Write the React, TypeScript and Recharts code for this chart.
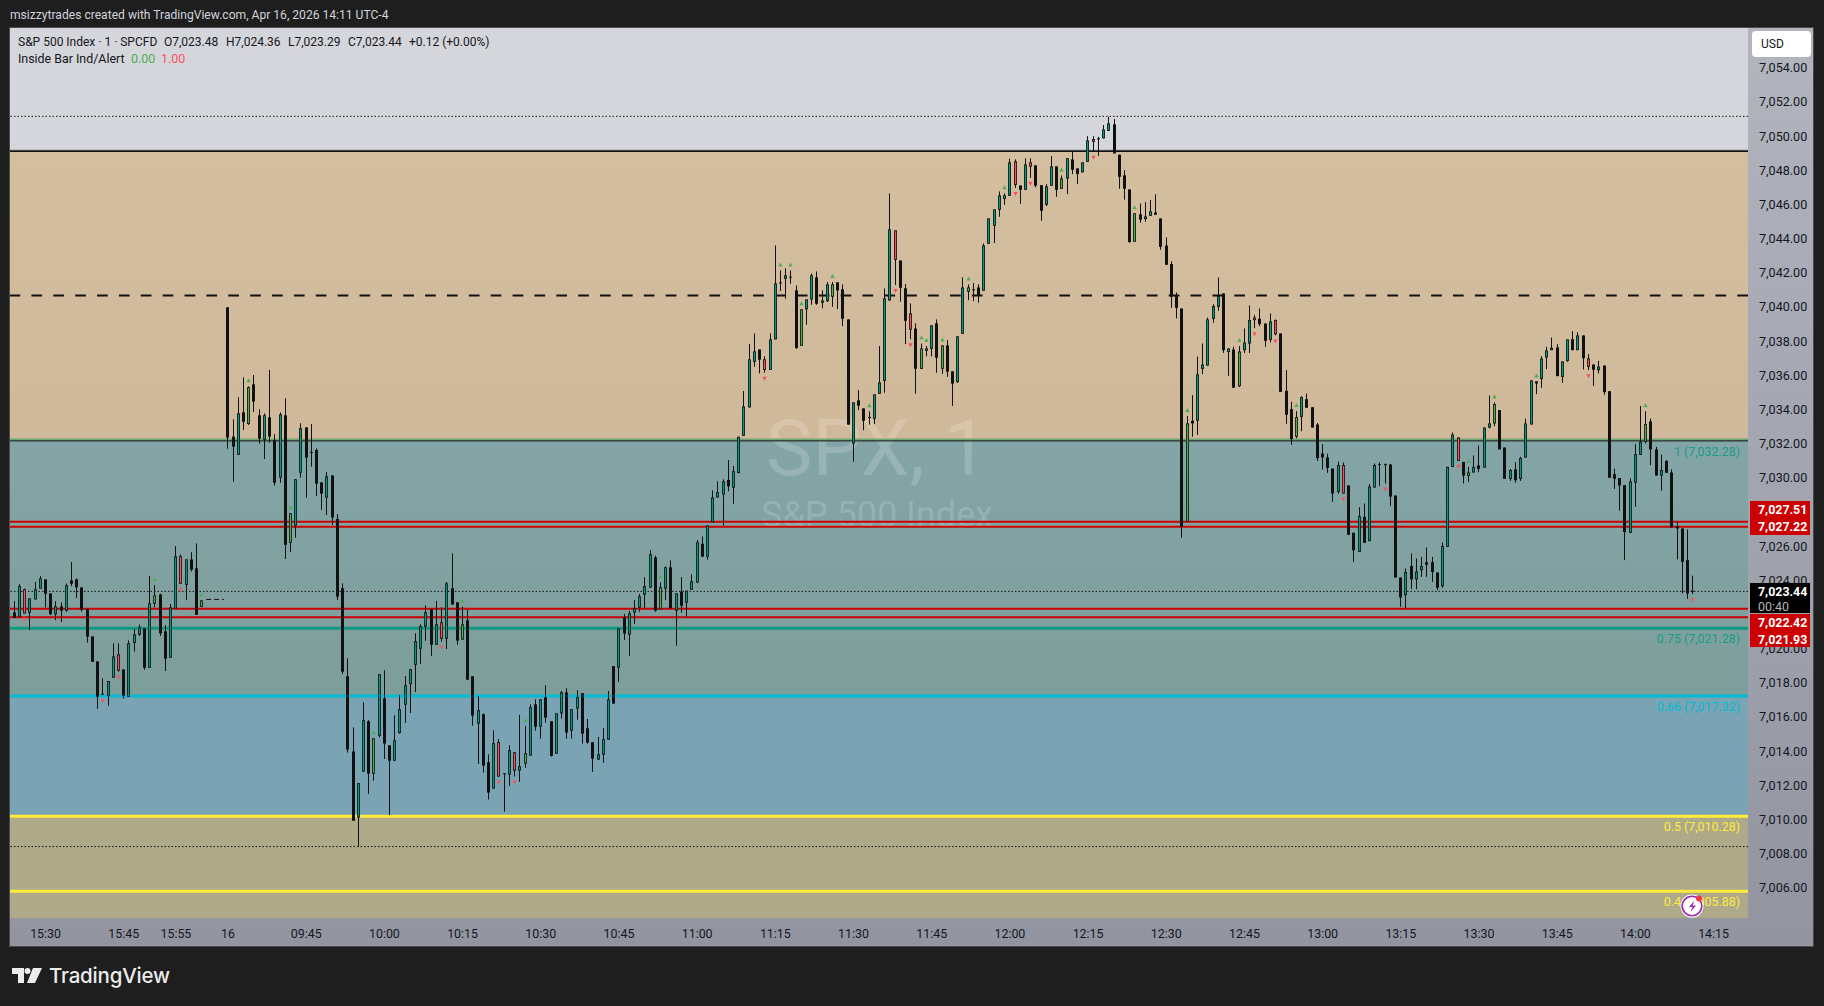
import { Bar, CartesianGrid, ComposedChart, ReferenceArea, ReferenceLine, XAxis, YAxis } from "recharts"

const FONT = "Roboto, 'Liberation Sans', sans-serif"

const opens = [
  7022.5,7022.21,7021.96,7022.15,7022.19,7022.97,7023.6,7024.14,7023.32,7022.09,
  7022.56,7022.31,7024.08,7024.14,7023.67,7022.39,7020.8,7019.34,7017.45,7017.31,
  7018.39,7018.8,7018.87,7017.27,7020.43,7020.9,7021.27,7018.97,7022.72,7023.26,
  7021.1,7019.56,7022.42,7023.89,7023.83,7025.31,7024.79,7022.54,null,null,
  null,null,7040.07,7032.5,7031.44,7033.92,7033.24,7035.56,7033.75,7032.32,
  7033.63,7032.28,7030.1,7033.75,7026.29,7027.29,7030.39,7033.04,7031.6,7031.72,
  7029.82,7028.93,7030.23,7027.68,7023.62,7018.47,7014.08,7010.2,7012.89,7015.84,
  7012.77,7014.99,7017.18,7014.43,7013.53,7015.15,7016.81,7018.02,7019.15,7020.09,
  7021.38,7022.39,7020.32,7020.67,7020.67,7023.62,7022.8,7020.62,7021.75,7018.47,
  7015.7,7016.25,7013.44,7011.9,7012.6,7012.79,7012.71,7012.95,7012.95,7013.36,
  7013.83,7016.83,7015.52,7017.24,7015.84,7013.94,7016.3,7017.53,7015.29,7016.58,
  7017.48,7015.43,7014.61,7013.59,7013.88,7014.76,7019.06,7018.98,7021.92,7020.91,
  7022.2,7022.49,7023.25,7023.66,7025.43,7022.39,7023.6,7024.85,7022.31,7023.42,
  7022.78,7023.54,7023.95,7026.23,7025.47,7027.48,7028.94,7029.12,7029.96,7029.51,
  7030.37,7032.55,7034.21,7036.88,7037.6,7036.41,7036.41,7038.19,7041.53,7041.74,
  7041.86,7041.06,7037.82,7039.95,7040.53,7041.82,7040.34,7040.43,7040.69,7041.53,
  7041.12,7039.36,7032.1,7034.62,7034.15,7033.65,7033.55,7035.01,7035.77,7040.47,
  7042.85,7042.81,7041.18,7038.76,7038.83,7036.47,7037.53,7037.64,7039.13,7036.47,
  7037.84,7036.32,7035.69,7038.52,7040.98,7041.12,7041.23,7041.04,7043.79,7044.84,
  7045.78,7046.42,7046.6,7047.24,7047.2,7046.95,7048.3,7048.38,7047.22,7046.07,
  7047.19,7048.32,7047.01,7047.61,7048.73,7048.2,7047.97,7048.59,7049.76,7049.96,
  7049.96,7050.4,7050.78,7049.0,7047.79,7046.97,7043.91,7045.51,7045.23,7045.43,
  7045.62,7045.27,7043.69,7042.6,7040.79,7040.0,7027.52,7033.43,7033.43,7036.47,
  7036.66,7039.4,7040.1,7040.88,7037.46,7037.6,7035.45,7037.56,7037.95,7039.32,
  7039.4,7039.12,7038.17,7038.5,7038.54,7035.18,7034.11,7032.49,7033.66,7034.69,
  7034.22,7033.21,7031.51,7031.28,7030.63,7029.27,7029.17,7029.64,7026.87,7025.76,
  7027.8,7026.38,7029.52,7030.89,7030.89,7030.87,7029.05,7024.25,7023.22,7024.92,
  7024.14,7024.68,7025.15,7025.15,7024.55,7023.75,7026.05,7030.73,7031.08,7031.02,
  7030.2,7030.4,7030.81,7030.69,7033.03,7033.27,7034.05,7031.86,7030.03,7030.58,
  7030.03,7031.28,7033.21,7035.73,7035.88,7037.13,7037.56,7037.72,7036.0,7036.92,
  7038.2,7037.56,7038.42,7036.59,7036.72,7036.39,7036.66,7035.16,7030.3,7030.07,
  7029.66,7026.87,7029.81,7031.43,7032.2,7033.39,7031.75,7030.22,7031.08,7030.4,
  7027.26,7027.12,7025.27,7023.48,
]

const highs = [
  7022.6,7022.87,7023.87,7023.6,7023.03,7024.0,7024.34,7024.14,7023.32,7022.87,
  7022.8,7023.9,7025.16,7024.2,7023.67,7022.45,7020.8,7019.34,7018.35,7018.19,
  7020.4,7020.4,7018.87,7020.57,7021.24,7021.5,7021.27,7024.34,7023.81,7023.3,
  7021.47,7022.7,7026.09,7025.6,7025.31,7025.74,7026.25,7022.91,null,null,
  null,null,7040.07,7033.51,7034.8,7035.97,7035.45,7036.11,7034.1,7033.86,
  7036.4,7032.65,7033.92,7034.74,7028.01,7030.0,7033.28,7033.04,7033.24,7031.81,
  7029.82,7030.43,7030.23,7027.97,7023.91,7019.52,7015.48,7012.21,7016.95,7015.9,
  7014.84,7018.59,7018.82,7014.43,7016.19,7017.38,7018.49,7018.88,7020.99,7021.51,
  7022.63,7022.39,7022.88,7022.51,7023.99,7025.66,7022.8,7022.55,7022.35,7018.47,
  7017.32,7016.3,7013.9,7015.31,7014.8,7012.79,7014.43,7014.02,7016.21,7015.56,
  7016.83,7017.12,7017.12,7017.94,7015.84,7016.3,7017.61,7017.77,7016.54,7017.65,
  7017.48,7015.97,7014.61,7014.92,7015.45,7017.61,7019.06,7021.28,7022.12,7022.3,
  7022.94,7023.29,7024.27,7025.86,7025.53,7023.97,7024.9,7025.26,7023.32,7024.28,
  7023.48,7024.44,7026.45,7026.66,7027.3,7029.35,7029.88,7030.0,7031.13,7030.78,
  7032.49,7035.17,7037.92,7038.54,7037.6,7037.2,7038.54,7043.69,7042.23,7042.35,
  7042.23,7041.35,7039.95,7040.53,7042.05,7042.17,7041.06,7041.55,7041.55,7041.53,
  7041.41,7039.36,7034.5,7035.22,7034.15,7033.98,7034.97,7037.8,7041.18,7046.74,
  7044.57,7042.81,7041.43,7040.3,7039.13,7037.95,7037.8,7039.01,7039.36,7037.84,
  7038.15,7036.32,7038.37,7041.82,7041.41,7041.49,7041.41,7043.81,7045.27,7045.8,
  7046.85,7046.74,7048.77,7048.73,7047.2,7048.79,7048.79,7048.38,7047.22,7047.28,
  7048.92,7048.32,7047.79,7048.79,7049.18,7048.2,7048.55,7050.09,7050.09,7050.05,
  7050.74,7051.22,7051.09,7049.0,7048.1,7046.97,7045.57,7046.15,7046.23,7046.35,
  7046.68,7045.27,7044.16,7042.76,7040.94,7040.0,7033.7,7034.93,7037.18,7037.95,
  7039.47,7040.25,7041.81,7040.88,7037.66,7037.76,7037.8,7038.83,7040.18,7039.61,
  7040.0,7039.12,7039.71,7039.36,7038.54,7036.39,7034.54,7034.0,7034.87,7035.02,
  7034.22,7033.3,7032.06,7031.5,7030.63,7031.04,7030.99,7029.64,7026.87,7028.37,
  7028.59,7029.72,7030.93,7030.99,7030.93,7030.87,7029.05,7024.25,7024.78,7025.66,
  7025.37,7025.46,7026.01,7025.46,7024.55,7026.3,7030.73,7032.74,7032.45,7031.02,
  7030.73,7031.4,7031.98,7033.03,7034.91,7034.5,7034.05,7031.86,7030.6,7031.0,
  7031.32,7033.56,7035.79,7035.73,7037.21,7037.76,7038.3,7037.91,7036.9,7038.19,
  7038.67,7038.61,7038.42,7037.33,7036.72,7036.94,7036.66,7035.16,7030.63,7030.07,
  7029.66,7030.05,7032.06,7034.3,7033.99,7033.56,7031.9,7031.45,7031.12,7030.58,
  7027.51,7027.12,7027.06,7024.36,
]

const lows = [
  7021.0,7021.9,7021.96,7022.15,7021.18,7022.97,7023.6,7022.5,7022.05,7021.76,
  7021.64,7022.25,7023.75,7023.05,7022.25,7020.44,7019.32,7016.57,7017.37,7016.75,
  7018.39,7018.74,7017.16,7017.27,7019.91,7020.83,7018.85,7018.97,7022.5,7020.83,
  7018.78,7019.56,7022.42,7023.89,7022.93,7024.61,7022.07,7022.54,null,null,
  null,null,7031.79,7029.86,7031.44,7032.89,7033.18,7033.94,7032.09,7031.19,
  7032.15,7029.63,7029.8,7025.34,7025.75,7026.58,7030.1,7028.93,7030.74,7029.02,
  7028.2,7027.91,7027.33,7022.94,7018.61,7014.0,7010.02,7008.5,7012.89,7011.58,
  7012.36,7014.88,7013.63,7010.35,7013.53,7015.11,7015.74,7016.32,7017.55,7019.19,
  7020.54,7019.66,7020.32,7020.5,7020.07,7022.67,7020.32,7020.62,7018.27,7015.58,
  7013.34,7012.83,7011.25,7011.9,7012.6,7010.55,7012.05,7012.6,7012.29,7013.12,
  7013.83,7015.29,7014.82,7015.76,7013.77,7013.94,7015.99,7014.82,7014.82,7015.93,
  7014.53,7014.53,7012.87,7013.59,7013.4,7014.76,7016.87,7018.14,7020.6,7019.66,
  7021.53,7022.24,7022.47,7023.66,7022.25,7022.39,7022.93,7022.45,7020.26,7022.19,
  7021.96,7023.54,7023.95,7025.47,7025.3,7027.48,7028.94,7027.29,7029.3,7028.57,
  7030.35,7032.55,7034.21,7036.59,7036.2,7036.24,7036.41,7038.19,7041.02,7040.57,
  7041.45,7037.64,7037.82,7039.05,7040.22,7040.22,7040.02,7040.38,7040.1,7039.97,
  7038.97,7033.2,7031.03,7034.05,7032.88,7033.2,7033.23,7035.01,7035.07,7040.47,
  7041.37,7040.4,7037.92,7038.2,7035.01,7036.47,7037.2,7037.2,7036.24,7036.17,
  7036.0,7034.3,7035.65,7038.52,7040.49,7040.43,7040.34,7041.04,7043.79,7043.83,
  7045.37,7046.07,7046.6,7047.05,7046.13,7046.95,7047.65,7047.09,7045.14,7046.0,
  7047.19,7046.54,7047.01,7046.7,7047.87,7047.28,7047.97,7048.59,7049.18,7048.94,
  7049.96,7050.4,7049.08,7047.01,7046.37,7043.85,7043.91,7045.02,7045.08,7045.43,
  7045.49,7043.44,7042.56,7040.04,7039.42,7026.58,7027.52,7032.5,7032.6,7036.16,
  7036.66,7039.16,7039.86,7037.4,7036.06,7035.36,7035.4,7037.4,7037.4,7038.85,
  7038.97,7037.76,7038.01,7038.42,7035.12,7033.25,7032.02,7032.4,7032.82,7034.19,
  7033.03,7031.08,7030.58,7030.38,7028.68,7029.17,7029.17,7026.75,7025.17,7025.76,
  7026.28,7026.38,7029.52,7029.6,7029.76,7028.45,7024.25,7022.54,7022.44,7023.57,
  7023.57,7024.29,7024.29,7024.0,7023.51,7023.65,7026.05,7030.73,7031.08,7029.76,
  7029.85,7030.4,7030.42,7030.69,7032.98,7033.11,7031.75,7030.03,7029.91,7029.8,
  7029.91,7031.28,7033.21,7034.99,7035.36,7036.45,7037.56,7036.04,7035.65,7036.88,
  7037.56,7037.56,7036.43,7036.39,7035.47,7036.2,7034.95,7030.09,7029.44,7028.16,
  7025.27,7026.87,7028.39,7031.43,7032.1,7030.83,7030.22,7029.33,7030.38,7027.18,
  7025.31,7023.32,7023.0,7023.29,
]

const closes = [
  7021.3,7021.9,7023.75,7023.56,7023.03,7023.56,7024.2,7023.3,7022.11,7022.56,
  7022.31,7023.79,7023.89,7023.67,7022.37,7020.79,7019.32,7017.27,7017.41,7018.19,
  7019.63,7019.75,7017.33,7020.4,7020.92,7021.33,7018.97,7022.74,7023.2,7020.98,
  7019.5,7022.5,7025.49,7025.49,7025.31,7024.71,7022.07,7022.91,null,null,
  null,null,7032.44,7031.91,7033.86,7033.37,7035.4,7034.55,7032.38,7033.75,
  7032.5,7029.8,7033.8,7026.17,7028.01,7030.0,7032.99,7031.27,7031.55,7029.75,
  7029.16,7030.17,7027.76,7023.13,7018.74,7014.18,7010.02,7012.21,7015.9,7012.77,
  7014.84,7018.59,7014.53,7013.53,7014.72,7016.54,7017.94,7018.88,7020.52,7021.4,
  7022.22,7020.32,7021.51,7021.63,7023.91,7022.67,7020.56,7021.51,7018.27,7016.17,
  7016.48,7013.24,7011.66,7014.55,7014.61,7012.75,7014.14,7014.02,7013.2,7013.96,
  7016.66,7015.52,7017.12,7016.05,7013.81,7016.3,7017.53,7015.17,7016.54,7017.24,
  7015.11,7014.59,7013.65,7013.9,7014.78,7017.12,7016.87,7021.28,7020.97,7022.16,
  7022.45,7023.15,7023.74,7025.61,7022.31,7023.68,7024.85,7022.45,7023.32,7022.6,
  7023.48,7024.03,7026.31,7025.47,7027.3,7028.94,7029.24,7029.88,7029.59,7030.47,
  7032.49,7034.27,7037.02,7037.49,7037.0,7037.02,7038.19,7041.47,7041.48,7041.94,
  7041.83,7037.68,7039.95,7040.53,7041.94,7040.28,7040.47,7041.41,7041.41,7041.06,
  7039.4,7033.2,7034.5,7034.31,7033.43,7033.6,7034.97,7035.67,7040.59,7044.63,
  7044.57,7041.21,7039.28,7039.71,7036.47,7037.66,7037.66,7039.01,7037.12,7037.84,
  7036.3,7035.6,7038.37,7041.23,7041.23,7041.1,7040.75,7043.69,7045.27,7045.8,
  7046.62,7046.62,7048.55,7048.61,7046.95,7048.43,7048.55,7047.19,7045.72,7047.15,
  7048.32,7046.95,7047.61,7048.79,7048.12,7047.87,7048.55,7049.84,7049.92,7049.93,
  7050.48,7050.83,7049.08,7047.71,7047.01,7043.89,7045.57,7045.2,7045.39,7045.68,
  7045.49,7043.61,7042.56,7040.69,7040.04,7027.23,7033.27,7033.27,7036.14,7036.72,
  7039.36,7040.14,7040.72,7037.56,7037.66,7035.36,7037.48,7038.01,7039.32,7039.47,
  7039.08,7038.11,7039.24,7039.32,7035.12,7033.78,7032.35,7033.64,7034.81,7034.19,
  7033.03,7031.24,7031.28,7030.67,7029.17,7030.83,7030.83,7026.75,7025.85,7027.84,
  7026.28,7029.58,7030.83,7030.87,7030.87,7028.98,7024.25,7023.08,7024.57,7024.14,
  7024.6,7024.92,7025.0,7024.57,7023.65,7026.09,7030.73,7032.62,7032.45,7030.22,
  7030.4,7030.73,7030.61,7033.03,7033.27,7034.4,7031.75,7030.03,7030.54,7029.95,
  7031.24,7033.27,7035.79,7035.61,7037.07,7037.54,7037.7,7036.04,7036.9,7038.19,
  7037.56,7038.42,7037.09,7037.07,7036.41,7036.6,7035.1,7030.09,7030.03,7029.64,
  7026.91,7029.87,7031.47,7032.2,7033.23,7031.75,7030.22,7030.54,7030.38,7027.18,
  7027.12,7025.17,7023.32,7023.44,
]

// inside bar indicator: recoloured candles and their markers
const greenCandles = [28,37,46,54,70,87,99,125,152,158,175,179,184,202,216,226,236,247,280,285,314]
const redCandles = [3,21,33,83,94,97,145,170,173,193,196,208,239,243,256,278,303]
const upMarks = [28,37,46,54,70,87,99,125,148,150,152,158,165,175,176,179,184,191,202,216,226,236,247,280,285,293,314]
const downMarks = [3,18,21,33,83,94,97,145,170,173,193,196,208,239,243,256,264,278,303,323]

const timeTicks = [7,22,32,42,57,72,87,102,117,132,147,162,177,192,207,222,237,252,267,282,297,312,327]
const timeLabels = ["15:30","15:45","15:55","16","09:45","10:00","10:15","10:30","10:45","11:00","11:15","11:30","11:45","12:00","12:15","12:30","12:45","13:00","13:15","13:30","13:45","14:00","14:15"]
// 7,028 and 7,022 sit fully behind the price tags in the reference
const priceTicks = [7006,7008,7010,7012,7014,7016,7018,7020,7024,7026,7030,7032,7034,7036,7038,7040,7042,7044,7046,7048,7050,7052,7054]

const candles = opens
  .map((open, i) => ({ slot: i, open, high: highs[i], low: lows[i], close: closes[i] }))
  .filter((d) => d.open !== null)

const CandleShape = (props: any) => {
  const { x, y, width, height, payload } = props
  const { slot, open, high, low, close } = payload
  const cx = Math.floor(x + width / 2) + 0.5
  const perPrice = height / (high - low)
  const top = y + (high - Math.max(open, close)) * perPrice
  const bodyH = Math.max(Math.abs(open - close) * perPrice, 1)
  let color = close > open ? "#089981" : "#111111"
  if (greenCandles.includes(slot)) color = "#4caf50"
  if (redCandles.includes(slot)) color = "#f7525f"
  return (
    <g>
      <rect x={cx - 0.5} y={y} width={1} height={height} fill="#111111" />
      <rect x={cx - 1.5} y={top} width={3} height={bodyH} fill="#111111" />
      {color !== "#111111" && bodyH > 2 && <rect x={cx - 0.7} y={top + 0.8} width={1.4} height={bodyH - 1.6} fill={color} />}
      {upMarks.includes(slot) && <path d={`M${cx} ${y - 8} l2.2 4 h-4.4 z`} fill="#4caf50" />}
      {downMarks.includes(slot) && <path d={`M${cx} ${y + height + 8} l2.2 -4 h-4.4 z`} fill="#f7525f" />}
    </g>
  )
}

const fibLabel = (text: string, color: string) => (props: any) => {
  const { x, y, width } = props.viewBox
  return (
    <text x={x + width - 8} y={y + 15} textAnchor="end" fill={color} fontSize={12.4} fontFamily={FONT}>
      {text}
    </text>
  )
}

const Watermark = (props: any) => {
  const mid = (props.x1 + props.x2) / 2 - 2
  const y = props.y1
  return (
    <g fill="rgba(255,255,255,0.17)" fontFamily={FONT} textAnchor="middle">
      <text x={mid} y={y + 35} fontSize={78}>SPX, 1</text>
      <text x={mid} y={y + 87} fontSize={36}>S&amp;P 500 Index</text>
    </g>
  )
}

const tag = (top: number, height: number, color: string): any => ({
  position: "absolute", left: 1750, top, width: 52, paddingLeft: 8, height, background: color, color: "#fff",
  fontSize: 12.4, fontWeight: 700, fontFamily: FONT,
})

const textAt = (left: number, top: number, color: string, size = 12): any => ({
  position: "absolute", left, top, color, fontSize: size, fontFamily: FONT, whiteSpace: "pre", lineHeight: "16px",
})

export default function App() {
  const lineProps: any = { zIndex: 250 }
  return (
    <div style={{ position: "fixed", left: 0, top: 0, width: 1824, height: 1006, background: "#1e1e1e", overflow: "hidden" }}>
      <div style={{ position: "absolute", left: 9, top: 27, width: 1803, height: 918, border: "1px solid #4a4a4a", background: "linear-gradient(#b2b4be, #92959f)" }} />
      <ComposedChart width={1824} height={1006} data={candles} margin={{ top: 28, right: 11, bottom: 60, left: 10 }} style={{ position: "absolute", left: 0, top: 0 }}>
        <defs>
          <linearGradient id="tealBand" x1="0" y1="0" x2="0" y2="1">
            <stop offset="0" stopColor="#84a5a7" />
            <stop offset="1" stopColor="#7e9e9b" />
          </linearGradient>
          <linearGradient id="tanBand" x1="0" y1="0" x2="0" y2="1">
            <stop offset="0" stopColor="#d4bea0" />
            <stop offset="1" stopColor="#cfb99a" />
          </linearGradient>
        </defs>
        <ReferenceArea y1={7049.22} y2={7056.42} fill="#d5d6db" fillOpacity={1} ifOverflow="hidden" />
        <ReferenceArea y1={7032.28} y2={7049.22} fill="url(#tanBand)" fillOpacity={1} />
        <ReferenceArea y1={7017.32} y2={7032.28} fill="url(#tealBand)" fillOpacity={1} />
        <ReferenceArea y1={7010.28} y2={7017.32} fill="#7aa3b3" fillOpacity={1} />
        <ReferenceArea y1={7004.32} y2={7010.28} fill="#aeaa89" fillOpacity={1} ifOverflow="hidden" />
        <CartesianGrid stroke="rgba(255,255,255,0.05)" />
        <ReferenceLine {...lineProps} y={7032.28} stroke="transparent" shape={Watermark} />
        <ReferenceLine {...lineProps} y={7051.25} stroke="#111" strokeDasharray="1.5 2" />
        <ReferenceLine {...lineProps} y={7049.26} stroke="#6b6b6b" strokeWidth={1} />
        <ReferenceLine {...lineProps} y={7049.2} stroke="#111" strokeWidth={1.5} />
        <ReferenceLine {...lineProps} y={7040.76} stroke="#111" strokeWidth={2} strokeDasharray="10.7 11.17" />
        <ReferenceLine {...lineProps} y={7032.33} stroke="#6fa874" strokeWidth={2} />
        <ReferenceLine {...lineProps} y={7032.25} stroke="#111" strokeWidth={1} label={fibLabel("1 (7,032.28)", "#199c87")} />
        <ReferenceLine {...lineProps} y={7027.51} stroke="#cc0000" strokeWidth={2} />
        <ReferenceLine {...lineProps} y={7027.22} stroke="#cc0000" strokeWidth={2} />
        <ReferenceLine {...lineProps} y={7023.44} stroke="#111" strokeDasharray="1.5 2" />
        <ReferenceLine {...lineProps} y={7022.42} stroke="#cc0000" strokeWidth={2} />
        <ReferenceLine {...lineProps} y={7021.93} stroke="#cc0000" strokeWidth={2} />
        <ReferenceLine {...lineProps} y={7021.28} stroke="#0e9a80" strokeWidth={3} label={fibLabel("0.75 (7,021.28)", "#199c87")} />
        <ReferenceLine {...lineProps} y={7017.32} stroke="#00bcd4" strokeWidth={3} label={fibLabel("0.66 (7,017.32)", "#00bcd4")} />
        <ReferenceLine {...lineProps} y={7010.28} stroke="#ffeb3b" strokeWidth={3} label={fibLabel("0.5 (7,010.28)", "#ffeb3b")} />
        <ReferenceLine {...lineProps} y={7008.5} stroke="#111" strokeDasharray="1.5 2" />
        <ReferenceLine {...lineProps} y={7005.88} stroke="#ffeb3b" strokeWidth={3} label={fibLabel("0.4 (7,005.88)", "#ffeb3b")} />
        <ReferenceLine {...lineProps} segment={[{ x: 37.8, y: 7022.97 }, { x: 41.2, y: 7022.97 }]} stroke="#111" strokeDasharray="5 3" />
        <XAxis
          type="number"
          dataKey="slot"
          domain={[0.175, 333.6]}
          allowDataOverflow
          ticks={timeTicks}
          tickFormatter={(v) => timeLabels[timeTicks.indexOf(v)]}
          interval={0}
          height={28}
          axisLine={false}
          tickLine={false}
          tickMargin={5}
          tick={{ fill: "#131722", fontSize: 12.4, fontFamily: FONT }}
        />
        <YAxis
          orientation="right"
          domain={[7004.32, 7056.42]}
          allowDataOverflow
          ticks={priceTicks}
          tickFormatter={(v) => v.toLocaleString("en-US", { minimumFractionDigits: 2 })}
          interval={0}
          width={65}
          axisLine={false}
          tickLine={false}
          tickMargin={5}
          tick={{ fill: "#131722", fontSize: 12.6, fontFamily: FONT, dy: -1.5 }}
        />
        <Bar zIndex={450} dataKey={(d: any) => [d.low, d.high]} barSize={3} shape={CandleShape} isAnimationActive={false} />
      </ComposedChart>

      <div style={textAt(10, 7, "#d1d4dc", 12.1)}>msizzytrades created with TradingView.com, Apr 16, 2026 14:11 UTC-4</div>
      <div style={textAt(18, 34, "#131722")}>S&amp;P 500 Index · 1 · SPCFD</div>
      <div style={textAt(164, 34, "#131722")}>O7,023.48</div>
      <div style={textAt(226, 34, "#131722")}>H7,024.36</div>
      <div style={textAt(288, 34, "#131722")}>L7,023.29</div>
      <div style={textAt(348, 34, "#131722")}>C7,023.44</div>
      <div style={textAt(409, 34, "#131722")}>+0.12 (+0.00%)</div>
      <div style={textAt(18, 51, "#131722", 12.4)}>Inside Bar Ind/Alert</div>
      <div style={textAt(131, 51, "#4caf50", 12.4)}>0.00</div>
      <div style={textAt(161, 51, "#f7525f", 12.4)}>1.00</div>

      <div style={{ ...textAt(1752, 31, "#131722"), width: 59, height: 26, background: "#fff", borderRadius: 4, lineHeight: "26px", textIndent: 9 }}>USD</div>
      <div style={{ ...tag(501, 34, "#cc0000"), lineHeight: "17px" }}>7,027.51<br />7,027.22</div>
      <div style={{ ...tag(583, 30, "#000"), lineHeight: "15px", paddingTop: 1, height: 29 }}>7,023.44<br /><span style={{ color: "#b2b5be", fontWeight: 400 }}>00:40</span></div>
      <div style={{ ...tag(614, 33, "#cc0000"), lineHeight: "16.5px", paddingTop: 1, height: 32 }}>7,022.42<br />7,021.93</div>

      <svg style={{ position: "absolute", left: 1679, top: 893 }} width={26} height={26}>
        <circle cx={13} cy={13} r={11.5} fill="#fff" />
        <circle cx={13} cy={13} r={9.8} fill="#fff" stroke="#9c27b0" strokeWidth={1.6} />
        <path d="M15.5 7.5 l-5.5 6.5 h3.5 l-2 5 l5.5 -6.5 h-3.5 z" fill="#9c27b0" />
        <circle cx={20} cy={5.5} r={3} fill="#f23645" />
      </svg>
      <svg style={{ position: "absolute", left: 12, top: 968 }} width={30} height={16}>
        <path d="M0 0 H12 V15 H6 V6 H0 Z M21 0 H30 L23 15 H15 Z" fill="#ececec" />
        <circle cx={15.5} cy={3} r={3} fill="#ececec" />
      </svg>
      <div style={{ ...textAt(49, 966, "#ececec", 20.5), lineHeight: "20px", fontFamily: "Inter, sans-serif", fontWeight: 500, letterSpacing: -0.2 }}>TradingView</div>
    </div>
  )
}
